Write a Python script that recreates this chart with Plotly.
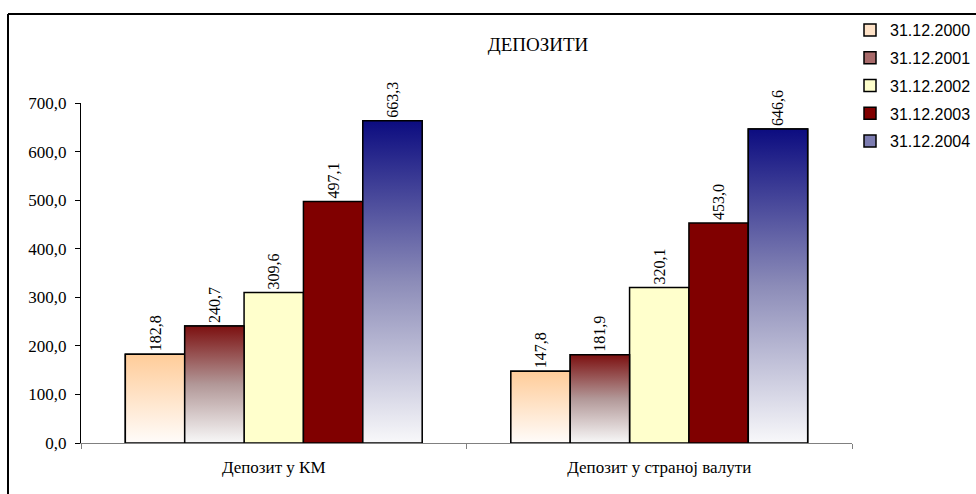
import plotly.graph_objects as go

# ---- data -------------------------------------------------------------
categories = ["Депозит у КМ", "Депозит у страној валути"]
dates = ["31.12.2000", "31.12.2001", "31.12.2002", "31.12.2003", "31.12.2004"]
dep_2000 = [182.8, 147.8]
dep_2001 = [240.7, 181.9]
dep_2002 = [309.6, 320.1]
dep_2003 = [497.1, 453.0]
dep_2004 = [663.3, 646.6]
series = [dep_2000, dep_2001, dep_2002, dep_2003, dep_2004]
y_ticks = [0, 100, 200, 300, 400, 500, 600, 700]

# ---- styling -----------------------------------------------------------
SERIF = "Times New Roman, Liberation Serif, serif"
SANS = "Arial, Liberation Sans, sans-serif"
legend_colors = ["#FFE3C8", "#A86A6A", "#FFFFCC", "#800000", "#7C7CB0"]
gradients = [
    [[0, "#FFFCFA"], [1, "#FFCC99"]],
    [[0, "#F8F8F8"], [0.5, "#B29898"], [1, "#7C1010"]],
    None,
    None,
    [[0, "#F8F8FA"], [0.5, "#8C8CB8"], [1, "#0C0C80"]],
]

W, H = 976, 494
ML, MR, MT, MB = 81, 124, 103, 51
PW, PH = W - ML - MR, H - MT - MB


def paper_x(px):
    return (px - ML) / PW


def paper_y(py):
    return (H - MB - py) / PH


GROUP = 0.77
bw = GROUP / len(series)

fig = go.Figure()
for i, (name, vals) in enumerate(zip(dates, series)):
    off = -GROUP / 2 + i * bw
    fig.add_bar(
        x=list(range(len(categories))), y=vals, name=name,
        offset=off, width=bw, legendgroup=name,
        marker=dict(color=legend_colors[i], line=dict(color="black", width=1.5)),
        texttemplate="%{y:.1f}", textposition="outside", textangle=-90,
        textfont=dict(family=SERIF, size=16, color="black"),
        constraintext="none", cliponaxis=False,
    )
    if gradients[i] is not None:
        # vertical gradient fill for each bar of this series
        for j, v in enumerate(vals):
            x0, x1 = j + off, j + off + bw
            fig.add_scatter(
                x=[x0, x1, x1, x0, x0], y=[0, 0, v, v, 0],
                mode="lines", fill="toself",
                fillgradient=dict(type="vertical", colorscale=gradients[i]),
                line=dict(color="black", width=1.5),
                showlegend=False, hoverinfo="skip", legendgroup=name,
            )

fig.update_layout(
    width=W, height=H,
    margin=dict(l=ML, r=MR, t=MT, b=MB, autoexpand=False),
    paper_bgcolor="white", plot_bgcolor="white",
    barmode="overlay", separators=",.",
    title=dict(text="ДЕПОЗИТИ", x=paper_x(538), xref="paper", xanchor="center",
               y=1 - 44 / H, yanchor="middle",
               font=dict(family=SERIF, size=19, color="black")),
    legend=dict(xref="container", x=1.0, xanchor="right",
                y=paper_y(13), yanchor="top",
                font=dict(family=SANS, size=16, color="black"),
                traceorder="grouped", tracegroupgap=4,
                bgcolor="rgba(0,0,0,0)"),
    showlegend=True,
    xaxis=dict(range=[-0.5, len(categories) - 0.5], tickvals=list(range(len(categories))),
               ticktext=categories, ticks="", showgrid=False, zeroline=False,
               showline=True, linecolor="#808080", linewidth=1,
               tickfont=dict(family=SERIF, size=17, color="black"),
               ticklabelstandoff=9,
               minor=dict(tick0=0.5, dtick=1, ticks="outside", ticklen=5,
                          tickcolor="#808080", showgrid=False),
               fixedrange=True),
    yaxis=dict(range=[0, 700], tickvals=y_ticks, tickformat=".1f",
               ticks="outside", ticklen=5, tickcolor="black",
               showline=True, linecolor="black", linewidth=1,
               showgrid=False, zeroline=False,
               tickfont=dict(family=SERIF, size=17, color="black"),
               ticklabelstandoff=5,
               fixedrange=True),
    shapes=[
        dict(type="line", xref="paper", yref="paper",
             x0=paper_x(8), x1=paper_x(W), y0=paper_y(14), y1=paper_y(14),
             line=dict(color="black", width=2)),
        dict(type="line", xref="paper", yref="paper",
             x0=paper_x(8), x1=paper_x(8), y0=paper_y(14), y1=paper_y(H),
             line=dict(color="black", width=2)),
    ],
)

fig.write_html("out.html")
